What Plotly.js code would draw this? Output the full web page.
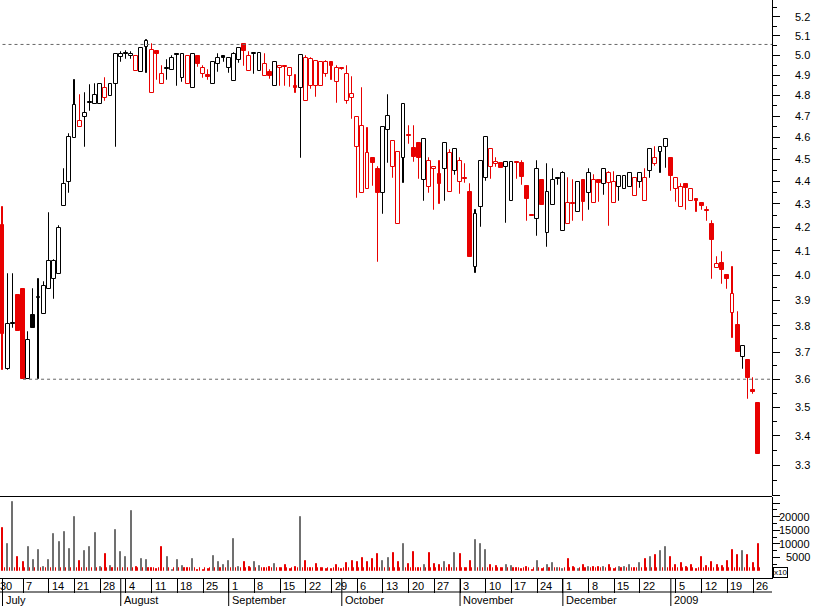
<!DOCTYPE html>
<html><head><meta charset="utf-8">
<script src="https://cdn.plot.ly/plotly-3.0.1.min.js"></script>
<style>html,body{margin:0;padding:0;background:#fff;}#chart{width:817px;height:606px;}</style>
</head><body><div id="chart"></div>
<script>
// ---------------- DATA ----------------
const dates = ['2008-06-30',
'2008-07-01','2008-07-02','2008-07-03','2008-07-04','2008-07-07','2008-07-08','2008-07-09','2008-07-10','2008-07-11','2008-07-14','2008-07-15','2008-07-16','2008-07-17','2008-07-18','2008-07-21','2008-07-22','2008-07-23','2008-07-24','2008-07-25','2008-07-28','2008-07-29','2008-07-30','2008-07-31',
'2008-08-01','2008-08-04','2008-08-05','2008-08-06','2008-08-07','2008-08-08','2008-08-11','2008-08-12','2008-08-13','2008-08-14','2008-08-15','2008-08-18','2008-08-19','2008-08-20','2008-08-21','2008-08-22','2008-08-25','2008-08-26','2008-08-27','2008-08-28','2008-08-29',
'2008-09-01','2008-09-02','2008-09-03','2008-09-04','2008-09-05','2008-09-08','2008-09-09','2008-09-10','2008-09-11','2008-09-12','2008-09-15','2008-09-16','2008-09-17','2008-09-18','2008-09-19','2008-09-22','2008-09-23','2008-09-24','2008-09-25','2008-09-26','2008-09-29','2008-09-30',
'2008-10-01','2008-10-02','2008-10-03','2008-10-06','2008-10-07','2008-10-08','2008-10-09','2008-10-10','2008-10-13','2008-10-14','2008-10-15','2008-10-16','2008-10-17','2008-10-20','2008-10-21','2008-10-22','2008-10-23','2008-10-24','2008-10-27','2008-10-28','2008-10-29','2008-10-30','2008-10-31',
'2008-11-03','2008-11-04','2008-11-05','2008-11-06','2008-11-07','2008-11-10','2008-11-11','2008-11-12','2008-11-13','2008-11-14','2008-11-17','2008-11-18','2008-11-19','2008-11-20','2008-11-21','2008-11-24','2008-11-25','2008-11-26','2008-11-27','2008-11-28',
'2008-12-01','2008-12-02','2008-12-03','2008-12-04','2008-12-05','2008-12-08','2008-12-09','2008-12-10','2008-12-11','2008-12-12','2008-12-15','2008-12-16','2008-12-17','2008-12-18','2008-12-19','2008-12-22','2008-12-23','2008-12-24','2008-12-29','2008-12-30','2008-12-31',
'2009-01-02','2009-01-05','2009-01-06','2009-01-07','2009-01-08','2009-01-09','2009-01-12','2009-01-13','2009-01-14','2009-01-15','2009-01-16','2009-01-19','2009-01-20','2009-01-21','2009-01-22','2009-01-23','2009-01-26','2009-01-27'];

const open = [null,
4.21,3.637,3.808,3.921,3.945,3.60,3.842,3.91,3.845,3.944,3.984,4.004,4.293,4.396,4.596,4.651,4.695,4.762,4.759,4.759,4.787,4.798,4.855,
4.993,5.006,4.996,4.922,4.917,5.04,4.81,5.021,4.855,4.93,4.926,5.0,4.884,4.855,4.835,4.996,4.905,4.893,4.855,4.954,4.996,
4.935,4.873,4.976,5.056,4.922,5.005,4.922,4.896,4.916,4.847,4.935,4.94,4.896,4.839,4.835,4.773,4.847,4.847,4.847,4.906,4.964,4.868,
4.93,4.773,4.787,4.554,4.35,4.366,4.504,4.455,4.347,4.635,4.464,4.213,4.504,4.607,4.55,4.572,4.406,4.374,4.455,4.433,4.455,4.351,4.444,
4.396,4.41,4.351,4.033,4.286,4.414,4.466,4.477,4.482,4.464,4.314,4.486,4.482,4.381,4.248,4.234,4.406,4.174,4.294,4.41,
4.184,4.214,4.30,4.265,4.406,4.35,4.305,4.406,4.388,4.394,4.305,4.374,4.366,4.374,4.336,4.396,4.314,4.447,4.478,4.535,4.554,
4.504,4.366,4.285,4.388,4.314,4.315,4.305,4.27,4.214,4.031,4.051,4.001,3.851,3.803,3.681,3.671,3.555,3.513];

const high = [null,
4.286,4.005,4.005,3.921,3.945,3.777,3.945,3.985,3.972,4.26,4.063,4.205,4.456,4.615,4.876,4.803,4.81,4.852,4.855,4.857,4.884,4.855,5.005,
5.016,5.023,5.016,4.996,5.035,5.078,5.058,5.021,4.946,4.976,4.995,5.006,5.005,4.996,5.005,4.996,4.946,4.926,4.968,5.006,4.996,
4.986,5.013,5.035,5.056,5.018,5.013,5.013,5.006,4.926,4.968,4.946,4.94,4.935,4.901,5.003,4.996,4.984,4.972,4.968,4.97,4.964,4.946,
4.932,4.946,4.893,4.695,4.835,4.644,4.504,4.464,4.648,4.803,4.585,4.535,4.758,4.654,4.654,4.572,4.595,4.504,4.464,4.492,4.572,4.542,4.545,
4.504,4.478,4.388,4.274,4.493,4.601,4.545,4.504,4.482,4.486,4.486,4.486,4.492,4.381,4.25,4.492,4.406,4.478,4.455,4.41,
4.44,4.417,4.406,4.399,4.406,4.456,4.428,4.406,4.455,4.44,4.44,4.425,4.426,4.435,4.413,4.435,4.455,4.545,4.557,4.554,4.595,
4.504,4.413,4.388,4.388,4.366,4.315,4.305,4.285,4.227,4.076,4.097,4.001,4.035,3.853,3.723,3.671,3.603,3.513];

const low = [null,
3.634,3.635,3.79,3.78,3.60,3.60,3.79,3.60,3.845,3.944,3.905,4.004,4.29,4.347,4.596,4.651,4.557,4.727,4.759,4.759,4.775,4.798,4.557,
4.968,4.98,4.98,4.922,4.917,4.909,4.81,4.876,4.855,4.876,4.926,4.848,4.868,4.855,4.835,4.94,4.888,4.876,4.855,4.917,4.968,
4.909,4.873,4.96,4.946,4.922,4.905,4.922,4.896,4.879,4.847,4.844,4.848,4.841,4.813,4.507,4.773,4.83,4.792,4.847,4.893,4.876,4.764,
4.928,4.76,4.686,4.328,4.35,4.366,4.377,4.056,4.255,4.481,4.417,4.213,4.394,4.568,4.485,4.41,4.315,4.347,4.274,4.3,4.315,4.351,4.43,
4.344,4.394,4.076,4.008,4.199,4.40,4.41,4.465,4.46,4.216,4.314,4.41,4.384,4.227,4.246,4.163,4.294,4.115,4.294,4.384,
4.184,4.214,4.227,4.265,4.227,4.274,4.305,4.31,4.34,4.206,4.305,4.315,4.366,4.374,4.336,4.37,4.314,4.417,4.467,4.438,4.46,
4.355,4.307,4.285,4.274,4.314,4.267,4.274,4.227,3.985,4.031,3.965,3.945,3.755,3.701,3.637,3.528,3.548,3.337];

const close = [null,
3.77,3.808,3.808,3.78,3.60,3.746,3.79,3.912,3.957,4.06,4.06,4.195,4.387,4.601,4.754,4.678,4.714,4.762,4.803,4.857,4.835,4.855,5.005,
5.006,5.006,5.006,4.996,5.035,5.075,5.027,5.005,4.906,4.93,4.984,5.0,5.005,4.996,5.005,4.954,4.935,4.893,4.968,4.984,4.986,
4.986,5.005,5.035,5.023,4.996,5.013,5.013,4.954,4.896,4.968,4.946,4.94,4.935,4.839,5.003,4.984,4.98,4.972,4.968,4.965,4.946,4.935,
4.93,4.905,4.808,4.695,4.652,4.526,4.484,4.347,4.648,4.703,4.585,4.535,4.758,4.607,4.508,4.505,4.595,4.492,4.464,4.387,4.572,4.526,4.545,
4.493,4.41,4.076,4.255,4.493,4.601,4.545,4.486,4.46,4.486,4.486,4.482,4.419,4.32,4.248,4.455,4.294,4.351,4.406,4.41,
4.435,4.305,4.30,4.396,4.307,4.435,4.406,4.394,4.455,4.435,4.396,4.425,4.426,4.435,4.413,4.435,4.413,4.545,4.504,4.554,4.595,
4.425,4.413,4.374,4.37,4.366,4.315,4.293,4.27,4.144,4.045,4.022,3.985,3.925,3.701,3.723,3.605,3.555,3.337];

const volume = [null,
15950,9900,25450,5100,3250,8800,4000,7700,1300,4000,13600,10800,14350,8050,19900,3750,7300,8800,14000,1400,6200,1800,15100,
7050,5100,22100,1300,4350,4000,1050,650,8900,5000,300,4000,1800,900,4350,300,300,650,5450,3250,2250,
3600,11750,1300,3250,1300,3250,1800,1050,1300,2400,1050,2000,800,1400,19900,3600,900,2400,1050,800,800,2000,
800,2750,3600,3250,4750,3250,4350,6200,3600,4750,6700,3250,9900,2500,7050,900,2150,6450,2500,2150,3250,2150,6450,
6200,1050,3600,11400,9900,7700,2000,1900,1050,2150,1800,1050,800,1300,400,3600,800,2000,2750,1050,
800,4350,1300,800,2150,1300,1300,1500,1300,2000,800,1300,1300,2000,1050,2750,4350,5100,5850,7300,8800,
5100,2150,2750,1300,2000,800,5100,1800,3250,2150,1800,3600,7700,5850,7300,5850,2750,9900];

// small red marks drawn at the foot of every volume bar in the original
const volumeMark = [null,
900,900,900,900,900,900,900,900,900,900,900,900,900,900,900,900,900,900,900,900,900,900,900,
900,900,900,900,900,900,900,900,900,900,900,900,900,900,900,900,900,900,900,900,900,
900,900,900,900,900,900,900,900,900,900,900,900,900,900,900,900,900,900,900,900,900,900,
900,900,900,900,900,900,900,900,900,900,900,900,900,900,900,900,900,900,900,900,900,900,900,
900,900,900,900,900,900,900,900,900,900,900,900,900,900,900,900,900,900,900,900,
900,900,900,900,900,900,900,900,900,900,900,900,900,900,900,900,900,900,900,900,900,
900,900,900,900,900,900,900,900,900,900,900,900,900,900,900,900,900,900];

const weekTicks = ['2008-06-30','2008-07-07','2008-07-14','2008-07-21','2008-07-28','2008-08-04','2008-08-11','2008-08-18','2008-08-25',
'2008-09-01','2008-09-08','2008-09-15','2008-09-22','2008-09-29','2008-10-06','2008-10-13','2008-10-20','2008-10-27','2008-11-03',
'2008-11-10','2008-11-17','2008-11-24','2008-12-01','2008-12-08','2008-12-15','2008-12-22','2009-01-05','2009-01-12','2009-01-19','2009-01-26'];
const monthStarts = ['2008-07-01','2008-08-01','2008-09-01','2008-10-01','2008-11-03','2008-12-01','2009-01-02'];
const monthLabels = ['July','August','September','October','November','December','2009'];
const priceTicks = [3.2,3.3,3.4,3.5,3.6,3.7,3.8,3.9,4.0,4.1,4.2,4.3,4.4,4.5,4.6,4.7,4.8,4.9,5.0,5.1,5.2];
const priceLabels = ['','3.3','3.4','3.5','3.6','3.7','3.8','3.9','4.0','4.1','4.2','4.3','4.4','4.5','4.6','4.7','4.8','4.9','5.0','5.1','5.2'];
const volumeTicks = [5000,10000,15000,20000];
const levelValues = [5.055, 3.60];
const levelFrom = ['2008-07-01','2008-07-07'];

// ---------------- DRAWING ----------------
const RED = '#e80000', BLACK = '#000000', GRAY = '#707070';
const N = dates.length;
const xs = dates.map((d, i) => i);
const X_MIN = 0.5137, X_MAX = 150.68;
const PLOT_H = 578;
const LABEL_RIGHT = 812 / 772;
const toPaperX = i => (i - X_MIN) / (X_MAX - X_MIN);

const candleColor = [], volColor = [], bodyFill = [], bodyBase = [], bodyLen = [], wickBase = [], wickLen = [];
for (let i = 0; i < N; i++) {
  if (open[i] == null) {
    candleColor.push(BLACK); volColor.push(GRAY); bodyFill.push('#fff');
    bodyBase.push(null); bodyLen.push(null); wickBase.push(null); wickLen.push(null);
    continue;
  }
  const prev = i > 0 ? close[i - 1] : null;
  const down = prev == null ? close[i] < open[i] : close[i] < prev;
  const col = down ? RED : BLACK;
  candleColor.push(col);
  volColor.push(down ? RED : GRAY);
  bodyFill.push(close[i] > open[i] ? '#ffffff' : col);
  const lo = Math.min(open[i], close[i]), hi = Math.max(open[i], close[i]);
  bodyBase.push(lo);
  bodyLen.push(Math.max(hi - lo, lo * 0.0012));
  const wl = Math.min(low[i], lo), wh = Math.max(high[i], hi);
  wickBase.push(wl);
  wickLen.push(wh - wl);
}

const traces = [
  {type: 'bar', x: xs, base: wickBase, y: wickLen, width: 0.02, xaxis: 'x', yaxis: 'y',
   marker: {color: candleColor, line: {color: candleColor, width: 1}}, hoverinfo: 'skip'},
  {type: 'bar', x: xs, base: bodyBase, y: bodyLen, width: 0.75, xaxis: 'x', yaxis: 'y',
   marker: {color: bodyFill, line: {color: candleColor, width: 1}}, hoverinfo: 'skip'},
  {type: 'bar', x: xs, y: volume, width: 0.1945, xaxis: 'x', yaxis: 'y2',
   marker: {color: volColor, line: {color: volColor, width: 1}}, hoverinfo: 'skip'},
  {type: 'bar', x: xs.map(i => i + 0.4), y: volumeMark, width: 0.01, xaxis: 'x', yaxis: 'y2',
   marker: {color: RED, line: {color: RED, width: 1}}, hoverinfo: 'skip'}
];
levelValues.forEach((v, k) => {
  traces.push({type: 'scatter', mode: 'lines', x: [dates.indexOf(levelFrom[k]), X_MAX], y: [v, v],
    xaxis: 'x', yaxis: 'y', line: {color: '#666666', width: 1, dash: '3px,3px'}, hoverinfo: 'skip'});
});

const shapes = [
  {type: 'line', xref: 'paper', yref: 'paper', x0: 0, x1: 1, y0: (PLOT_H - 496.5) / PLOT_H, y1: (PLOT_H - 496.5) / PLOT_H, line: {color: '#000', width: 1}},
  {type: 'line', xref: 'paper', yref: 'paper', x0: 0, x1: 1, y0: -14 / PLOT_H, y1: -14 / PLOT_H, line: {color: '#000', width: 1}}
];
monthStarts.forEach(d => {
  const i = dates.indexOf(d);
  shapes.push({type: 'line', xref: 'x', yref: 'paper', x0: i, x1: i, y0: 0, y1: -28 / PLOT_H, line: {color: '#000', width: 1}});
});

const annotations = [];
weekTicks.forEach(d => {
  annotations.push({xref: 'paper', yref: 'paper', x: toPaperX(dates.indexOf(d)), y: -7.5 / PLOT_H, xanchor: 'left', yanchor: 'middle',
    xshift: 1, showarrow: false, text: String(parseInt(d.slice(8), 10)), font: {size: 11, color: '#000'}});
});
monthStarts.forEach((d, k) => {
  annotations.push({xref: 'paper', yref: 'paper', x: toPaperX(dates.indexOf(d)), y: -21.5 / PLOT_H, xanchor: 'left', yanchor: 'middle',
    xshift: 1, showarrow: false, text: monthLabels[k], font: {size: 11, color: '#000'}});
});
priceTicks.forEach((v, k) => {
  if (!priceLabels[k]) return;
  // annotation positions on a log axis are given in log10 units
  annotations.push({xref: 'paper', yref: 'y', x: LABEL_RIGHT, y: Math.log10(v), xanchor: 'right', yanchor: 'middle',
    showarrow: false, text: priceLabels[k], font: {size: 11, color: '#000'}});
});
volumeTicks.forEach(v => {
  annotations.push({xref: 'paper', yref: 'y2', x: LABEL_RIGHT, y: v, xanchor: 'right', yanchor: 'middle',
    showarrow: false, text: String(v), font: {size: 11, color: '#000'}});
});
annotations.push({xref: 'paper', yref: 'paper', x: 773 / 772, y: 0, xanchor: 'left', yanchor: 'bottom',
  showarrow: false, text: 'x10', font: {size: 8, color: '#000'}, bordercolor: '#000', borderwidth: 1, borderpad: 0, bgcolor: '#fff'});

const priceMinor = [];
for (let k = 0; k < priceTicks.length; k++) priceMinor.push(Math.round((priceTicks[k] + 0.05) * 100) / 100);

const layout = {
  width: 817, height: 606,
  margin: {l: 0, r: 45, t: 0, b: 28, pad: 0},
  paper_bgcolor: '#ffffff', plot_bgcolor: '#ffffff',
  showlegend: false, barmode: 'overlay', bargap: 0,
  font: {family: '"Liberation Sans", Arial, sans-serif', size: 11, color: '#000'},
  xaxis: {range: [X_MIN, X_MAX], anchor: 'y2', showgrid: false, zeroline: false,
    showline: true, linecolor: '#000', linewidth: 1,
    ticks: 'outside', ticklen: 14, tickwidth: 1, tickcolor: '#000',
    tickmode: 'array', tickvals: weekTicks.map(d => dates.indexOf(d)), showticklabels: false, fixedrange: true},
  yaxis: {type: 'log', domain: [(PLOT_H - 496) / PLOT_H, 1], range: [Math.log10(3.198), Math.log10(5.288)],
    side: 'right', anchor: 'x', showgrid: false, zeroline: false,
    showline: true, linecolor: '#000', linewidth: 1,
    ticks: 'outside', ticklen: 7, tickwidth: 1, tickcolor: '#000',
    tickmode: 'array', tickvals: priceTicks, showticklabels: false,
    minor: {tickmode: 'array', tickvals: priceMinor, ticks: 'outside', ticklen: 4, tickcolor: '#000', showgrid: false},
    fixedrange: true},
  yaxis2: {domain: [0, (PLOT_H - 497) / PLOT_H], range: [-2664, 27306],
    side: 'right', anchor: 'x', showgrid: false, zeroline: false,
    showline: true, linecolor: '#000', linewidth: 1,
    ticks: 'outside', ticklen: 7, tickwidth: 1, tickcolor: '#000',
    tickmode: 'array', tickvals: [0, 5000, 10000, 15000, 20000, 25000], showticklabels: false,
    minor: {tickmode: 'array', tickvals: [2500, 7500, 12500, 17500, 22500], ticks: 'outside', ticklen: 4, tickcolor: '#000', showgrid: false},
    fixedrange: true},
  shapes: shapes,
  annotations: annotations
};

Plotly.newPlot('chart', traces, layout, {displayModeBar: false, responsive: false});
</script>
</body></html>
